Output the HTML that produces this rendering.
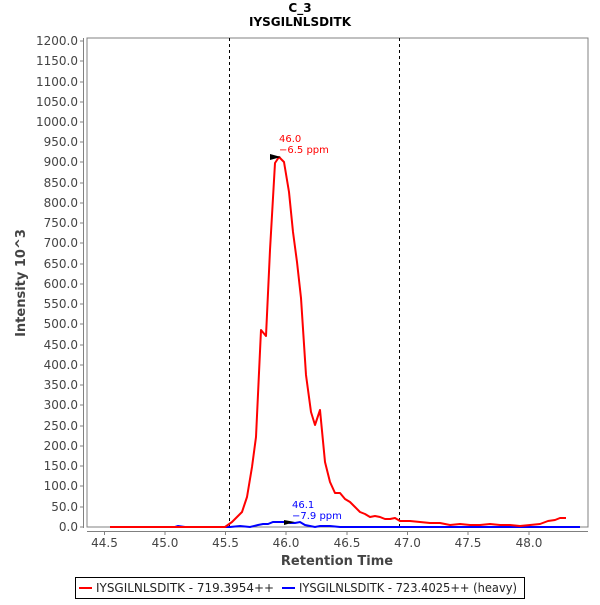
<!DOCTYPE html>
<html><head><meta charset="utf-8"><style>
html,body{margin:0;padding:0;background:#fff;}
svg text{font-family:"DejaVu Sans","Liberation Sans",sans-serif;}
</style></head><body>
<svg width="600" height="600" xmlns="http://www.w3.org/2000/svg">
<rect width="600" height="600" fill="#fff"/>
<text x="300" y="12" font-size="12" font-weight="bold" text-anchor="middle" fill="#000">C_3</text>
<text x="300" y="26" font-size="12" font-weight="bold" text-anchor="middle" fill="#000">IYSGILNLSDITK</text>
<rect x="87" y="38" width="501" height="489" fill="#fff" stroke="#808080" stroke-width="1"/>
<line x1="83.5" y1="38" x2="83.5" y2="528" stroke="#808080"/>
<line x1="87" y1="531.5" x2="588" y2="531.5" stroke="#808080"/>
<g font-size="12" fill="#444" text-anchor="end">
<text x="78" y="45">1200.0</text><text x="78" y="65">1150.0</text><text x="78" y="86">1100.0</text><text x="78" y="106">1050.0</text><text x="78" y="126">1000.0</text><text x="78" y="146">950.0</text><text x="78" y="166">900.0</text><text x="78" y="187">850.0</text><text x="78" y="207">800.0</text><text x="78" y="227">750.0</text><text x="78" y="247">700.0</text><text x="78" y="268">650.0</text><text x="78" y="288">600.0</text><text x="78" y="308">550.0</text><text x="78" y="328">500.0</text><text x="78" y="349">450.0</text><text x="78" y="369">400.0</text><text x="78" y="389">350.0</text><text x="78" y="409">300.0</text><text x="78" y="430">250.0</text><text x="78" y="450">200.0</text><text x="78" y="470">150.0</text><text x="78" y="490">100.0</text><text x="78" y="511">50.0</text><text x="78" y="531">0.0</text>
</g>
<g stroke="#808080">
<path d="M80 41h3M80 61h3M80 82h3M80 102h3M80 122h3M80 142h3M80 162h3M80 183h3M80 203h3M80 223h3M80 243h3M80 264h3M80 284h3M80 304h3M80 324h3M80 345h3M80 365h3M80 385h3M80 405h3M80 426h3M80 446h3M80 466h3M80 486h3M80 507h3M80 527h3"/>
<path d="M104.5 532v3M165 532v3M225.5 532v3M286 532v3M347 532v3M407.5 532v3M468 532v3M529 532v3"/>
</g>
<g font-size="12" fill="#444" text-anchor="middle">
<text x="104.5" y="547">44.5</text><text x="165" y="547">45.0</text><text x="225.5" y="547">45.5</text><text x="286" y="547">46.0</text><text x="347" y="547">46.5</text><text x="407.5" y="547">47.0</text><text x="468" y="547">47.5</text><text x="529" y="547">48.0</text>
</g>
<text x="337" y="565" font-size="13" font-weight="bold" fill="#444" text-anchor="middle">Retention Time</text>
<text transform="translate(25,283) rotate(-90)" font-size="13" font-weight="bold" fill="#444" text-anchor="middle">Intensity 10^3</text>
<line x1="229.5" y1="38" x2="229.5" y2="527" stroke="#000" stroke-dasharray="3,3"/>
<line x1="399.5" y1="38" x2="399.5" y2="527" stroke="#000" stroke-dasharray="3,3"/>
<polyline fill="none" stroke="#0000ff" stroke-width="2" points="110,527 175,527 178,526 185,527 230,527 240,526 250,527 258,525 263,524 268,524 273,522 280,522 285,522 290,523 295,523 300,522 305,525 310,526 315,527 320,526 330,526 340,527 580,527"/>
<polyline fill="none" stroke="#ff0000" stroke-width="2" stroke-linejoin="round" points="110,527 225,527 232,522 242,512 247,497 252,467 256,437 261,330 266,336 270,250 275,163 279,157 284,162 289,192 293,232 297,262 301,298 306,375 311,412 315,425 320,410 325,462 330,482 335,493 340,493 345,499 350,502 355,507 360,512 365,514 370,517 375,516 380,517 385,519 390,519 395,518 400,521 410,521 420,522 430,523 440,523 450,525 460,524 470,525 480,525 490,524 500,525 510,525 520,526 530,525 540,524 548,521 555,520 560,518 566,518"/>
<polygon points="270,154 281,157 270,160" fill="#000"/>
<polygon points="284,520 295,522 284,525" fill="#000"/>
<text x="279" y="142" font-size="10" fill="#ff0000">46.0</text>
<text x="279" y="153" font-size="10" fill="#ff0000">−6.5 ppm</text>
<text x="292" y="508" font-size="10" fill="#0000ff">46.1</text>
<text x="292" y="519" font-size="10" fill="#0000ff">−7.9 ppm</text>
<rect x="75.5" y="577.5" width="449" height="21" fill="#fff" stroke="#000"/>
<line x1="79" y1="588" x2="92" y2="588" stroke="#ff0000" stroke-width="2"/>
<text x="96" y="592" font-size="12" fill="#222" textLength="178" lengthAdjust="spacingAndGlyphs">IYSGILNLSDITK - 719.3954++</text>
<line x1="282" y1="588" x2="295" y2="588" stroke="#0000ff" stroke-width="2"/>
<text x="299" y="592" font-size="12" fill="#222" textLength="218" lengthAdjust="spacingAndGlyphs">IYSGILNLSDITK - 723.4025++ (heavy)</text>
</svg>
</body></html>
